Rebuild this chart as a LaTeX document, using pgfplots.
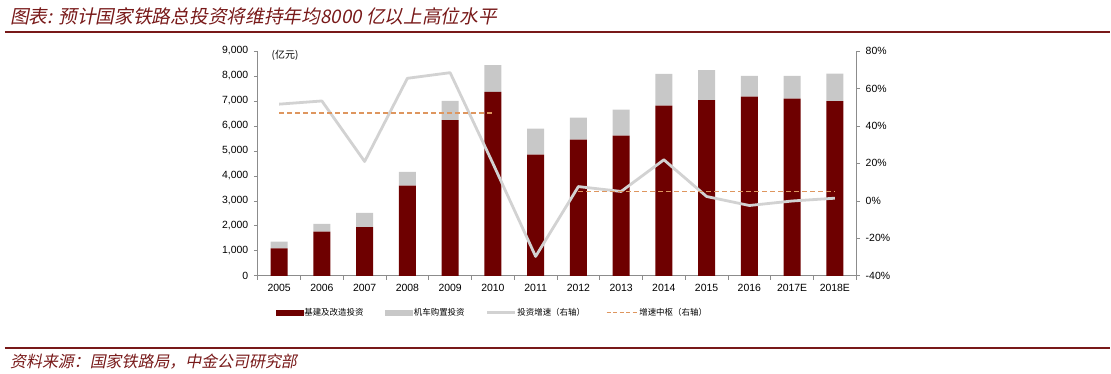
\documentclass[border=0pt]{standalone}
\usepackage{pgfplots}
\pgfplotsset{compat=1.18}
\usepackage{fontspec}
\setmainfont{Liberation Sans}
\newfontfamily\cjk{Noto Sans CJK SC}
\newfontfamily\cjkit[FakeSlant=0.2]{Noto Sans CJK SC}
\definecolor{barred}{RGB}{110,0,0}
\definecolor{bargray}{RGB}{200,200,200}
\definecolor{linegray}{RGB}{210,210,210}
\definecolor{dashtan}{RGB}{222,150,95}
\definecolor{titlered}{RGB}{120,25,25}
\definecolor{axgray}{RGB}{140,140,140}
\begin{document}
\begin{tikzpicture}
\path (0,0) rectangle (1111bp,374bp);
\node[anchor=west,inner sep=0,text=titlered,font={\fontsize{18.8}{20}\cjkit}] at (10bp,358bp) {图表: 预计国家铁路总投资将维持年均8000 亿以上高位水平};
\draw[titlered,line width=2bp] (5bp,342.3bp) -- (1111bp,342.3bp);
\draw[titlered,line width=2bp] (5bp,25.7bp) -- (1111bp,25.7bp);
\node[anchor=west,inner sep=0,text=titlered,font={\fontsize{16}{18}\cjkit}] at (10bp,12.5bp) {资料来源：国家铁路局，中金公司研究部};
\begin{axis}[
  at={(258bp,98bp)}, anchor=south west, scale only axis,
  width=599bp, height=225bp,
  xmin=-0.5, xmax=13.5, ymin=0, ymax=9000,
  axis y line*=left, axis x line*=bottom,
  axis line style={axgray, line width=0.8bp},
  ybar stacked, bar width=17bp,
  xtick={0,...,13},
  xticklabels={2005,2006,2007,2008,2009,2010,2011,2012,2013,2014,2015,2016,2017E,2018E},
  minor xtick={-0.5,0.5,...,13.5},
  major x tick style={draw=none},
  minor x tick style={axgray, line width=0.6bp},
  minor tick length=4bp,
  ytick={0,1000,...,9000},
  tick align=outside, major tick length=4bp,
  y tick style={axgray, line width=0.6bp},
  /pgf/number format/assume math mode=true,
  /pgf/number format/1000 sep={,},
  ticklabel style={font=\fontsize{10.5}{12}\selectfont},
  yticklabel style={xshift=-2bp},
  xticklabel style={yshift=-1bp},
  clip=false,
]
\addplot[fill=barred, draw=none] coordinates {(0,1100) (1,1770) (2,1950) (3,3610) (4,6230) (5,7360) (6,4850) (7,5450) (8,5610) (9,6810) (10,7030) (11,7170) (12,7090) (13,6990)};
\addplot[fill=bargray, draw=none] coordinates {(0,270) (1,310) (2,570) (3,550) (4,770) (5,1070) (6,1040) (7,880) (8,1040) (9,1270) (10,1200) (11,830) (12,910) (13,1100)};
\node[anchor=west, inner sep=0, font={\fontsize{10}{12}\cjk}] at (rel axis cs:0.023,0.982) {(亿元)};
\end{axis}
\begin{axis}[
  at={(258bp,98bp)}, anchor=south west, scale only axis,
  width=599bp, height=225bp,
  xmin=-0.5, xmax=13.5, ymin=-40, ymax=80,
  axis y line*=right, axis x line=none,
  axis line style={axgray, line width=0.8bp},
  ytick={-40,-20,...,80},
  tick align=outside, major tick length=4bp,
  y tick style={axgray, line width=0.6bp},
  /pgf/number format/assume math mode=true,
  yticklabel={\pgfmathprintnumber{\tick}\%},
  ticklabel style={font=\fontsize{10.5}{12}\selectfont},
  yticklabel style={xshift=2bp},
  unbounded coords=jump,
  clip=false,
  legend columns=4,
  legend style={at={(0.03,-0.164)}, anchor=west, draw=none, fill=none, inner sep=0pt,
    font={\fontsize{8.5}{10}\cjk},
    /tikz/every even column/.append style={column sep=20bp},
    /tikz/every odd column/.append style={column sep=0bp},
    nodes={inner sep=1bp}},
]
\addlegendimage{legend image code/.code={\fill[barred] (0bp,-2.8bp) rectangle (27bp,2.8bp);}}
\addlegendentry{基建及改造投资}
\addlegendimage{legend image code/.code={\fill[bargray] (0bp,-2.8bp) rectangle (28bp,2.8bp);}}
\addlegendentry{机车购置投资}
\addplot[linegray, line width=2.8bp, line join=round, no marks, legend image code/.code={\draw[linegray, line width=2.8bp] (0bp,0bp) -- (28bp,0bp);}] coordinates {(0,51.6) (1,53.3) (2,21.0) (3,65.4) (4,68.4) (5,20.0) (6,-29.7) (7,7.6) (8,5.0) (9,21.9) (10,2.3) (11,-2.5) (12,-0.1) (13,1.4)};
\addlegendentry{投资增速（右轴）}
\addplot[dashtan, line width=1.5bp, dash pattern=on 5bp off 3bp, no marks, legend image code/.code={\draw[dashtan, line width=1.3bp, dash pattern=on 4bp off 2.5bp] (0bp,0bp) -- (31bp,0bp);}] coordinates {(0,46.8) (5,46.8) (6,nan) (7,5.0) (13,5.0)};
\addlegendentry{增速中枢（右轴）}
\end{axis}
\end{tikzpicture}
\end{document}
